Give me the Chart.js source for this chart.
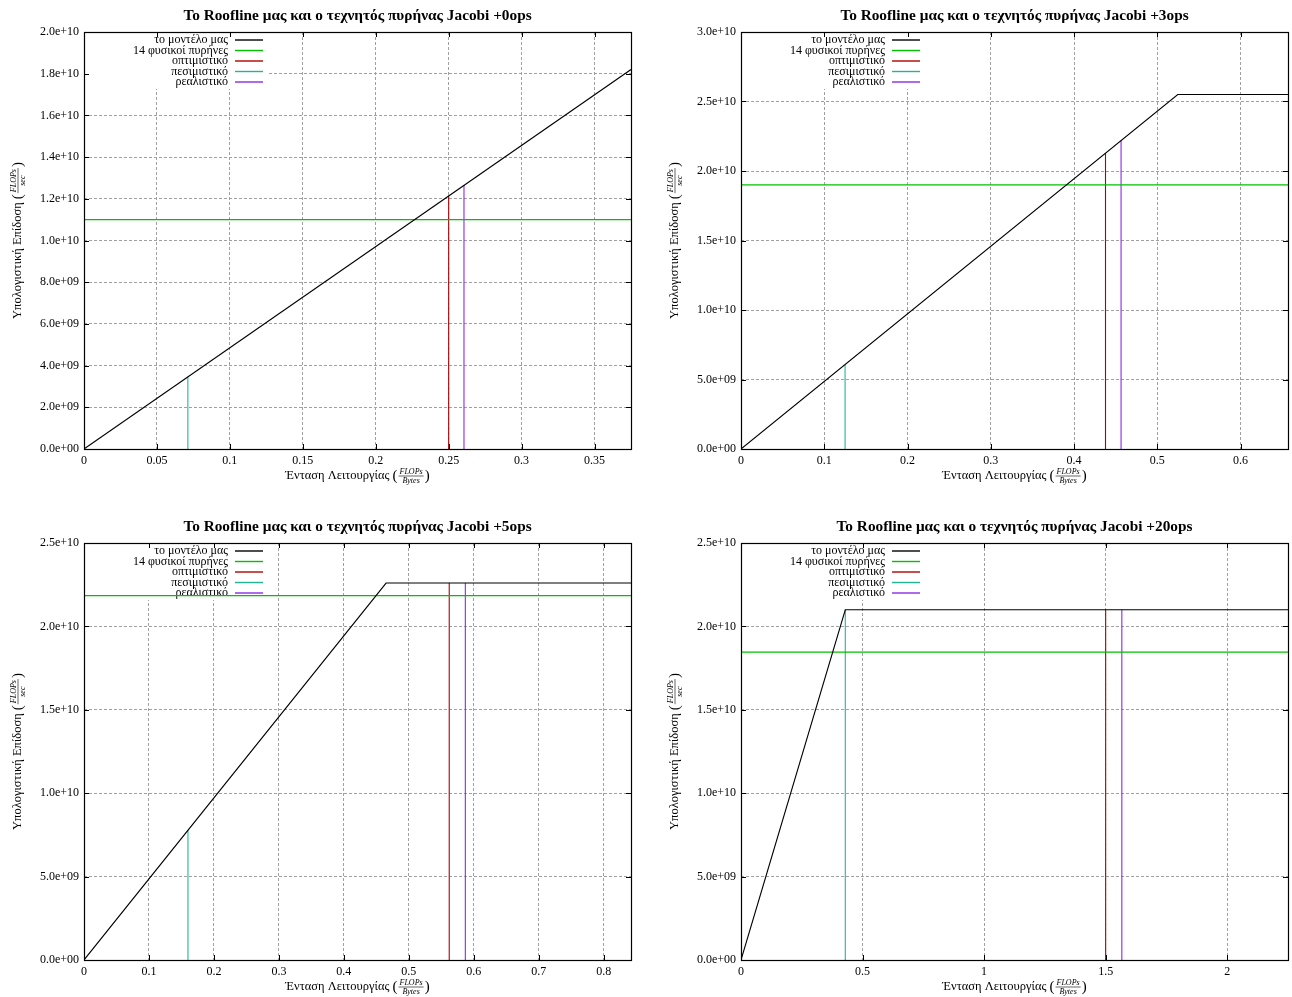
<!DOCTYPE html>
<html><head><meta charset="utf-8">
<script src="https://cdn.jsdelivr.net/npm/chart.js@4"></script>
<style>
body{margin:0;background:#fff;width:1292px;height:997px;overflow:hidden;position:relative}
canvas{position:absolute}
</style></head><body>
<canvas id="c0"></canvas><canvas id="c1"></canvas><canvas id="c2"></canvas><canvas id="c3"></canvas>
<script>
// ---------- data ----------
const titles = [
  'Το Roofline μας και ο τεχνητός πυρήνας Jacobi +0ops',
  'Το Roofline μας και ο τεχνητός πυρήνας Jacobi +3ops',
  'Το Roofline μας και ο τεχνητός πυρήνας Jacobi +5ops',
  'Το Roofline μας και ο τεχνητός πυρήνας Jacobi +20ops'
];
const legendLabels = ['το μοντέλο μας', '14 φυσικοί πυρήνες', 'οπτιμιστικό', 'πεσιμιστικό', 'ρεαλιστικό'];
const xLabelText = 'Ένταση Λειτουργίας';
const xLabelNum = 'FLOPs';
const xLabelDen = 'Bytes';
const yLabelText = 'Υπολογιστική Επίδοση';
const yLabelNum = 'FLOPs';
const yLabelDen = 'sec';

const xMaxes = [0.375, 0.657, 0.842, 2.25];
const xSteps = [0.05, 0.1, 0.1, 0.5];
const yMaxes = [2.0e10, 3.0e10, 2.5e10, 2.5e10];
const ySteps = [2e9, 5e9, 5e9, 5e9];

const roofX = [[0, 0.375], [0, 0.5246, 0.657], [0, 0.465, 0.842], [0, 0.429, 2.25]];
const roofY = [[0, 1.82e10], [0, 2.55e10, 2.55e10], [0, 2.26e10, 2.26e10], [0, 2.10e10, 2.10e10]];
const coresPerf = [1.10e10, 1.90e10, 2.185e10, 1.846e10];
const optimisticX = [0.25, 0.4378, 0.5622, 1.5];
const optimisticY = [1.215e10, 2.13e10, 2.26e10, 2.10e10];
const pessimisticX = [0.0712, 0.125, 0.16, 0.429];
const pessimisticY = [3.46e9, 6.08e9, 7.8e9, 2.10e10];
const realisticX = [0.2605, 0.4565, 0.587, 1.5665];
const realisticY = [1.266e10, 2.22e10, 2.26e10, 2.10e10];

// ---------- style / layout ----------
const COLORS = ['#000000', '#00c000', '#b00000', '#20b890', '#8a2be2'];
const plotAreas = [
  {l: 84, t: 32, r: 631, b: 449},
  {l: 741, t: 32, r: 1288, b: 449},
  {l: 84, t: 543, r: 631, b: 960},
  {l: 741, t: 543, r: 1288, b: 960}
];
const PADL = 100, PADT = 40, PADR = 10, PADB = 55;
const FONT = '"Liberation Serif", "DejaVu Serif", serif';

function fmtY(v) {
  if (Math.abs(v) < 1) return '0.0e+00';
  const s = v.toExponential(1);
  const parts = s.split('e');
  let sign = parts[1][0];
  let d = parts[1].slice(1);
  if (d.length < 2) d = '0' + d;
  return parts[0] + 'e' + sign + d;
}
function fmtX(v) {
  return String(Number(v.toFixed(4)));
}

function drawFracLabel(ctx, pre, num, den, cx, cy) {
  const mainF = '12.5px ' + FONT;
  const parF = '15px ' + FONT;
  const fracF = 'italic 8px ' + FONT;
  ctx.font = mainF; const wPre = ctx.measureText(pre + ' ').width;
  ctx.font = parF; const wPar = ctx.measureText('(').width;
  ctx.font = fracF; const wFrac = Math.max(ctx.measureText(num).width, ctx.measureText(den).width) + 2;
  const total = wPre + wPar * 2 + wFrac + 2;
  let x = cx - total / 2;
  ctx.fillStyle = '#000';
  ctx.textBaseline = 'middle';
  ctx.textAlign = 'left';
  ctx.font = mainF; ctx.fillText(pre + ' ', x, cy); x += wPre;
  ctx.font = parF; ctx.fillText('(', x, cy); x += wPar + 1;
  ctx.font = fracF; ctx.textAlign = 'center';
  ctx.fillText(num, x + wFrac / 2, cy - 4.5);
  ctx.fillText(den, x + wFrac / 2, cy + 5);
  ctx.strokeStyle = '#000'; ctx.lineWidth = 0.6;
  ctx.beginPath(); ctx.moveTo(x, cy); ctx.lineTo(x + wFrac, cy); ctx.stroke();
  x += wFrac + 1;
  ctx.textAlign = 'left';
  ctx.font = parF; ctx.fillText(')', x, cy);
}

const customPlugin = {
  id: 'custom',
  beforeDatasetsDraw(chart, args, opts) {
    const ctx = chart.ctx, a = chart.chartArea;
    ctx.save();
    ctx.fillStyle = '#fff';
    ctx.fillRect(a.left + 1, a.top + 1, 182, 56);
    ctx.font = '12px ' + FONT;
    ctx.textAlign = 'right';
    ctx.textBaseline = 'middle';
    legendLabels.forEach((lab, i) => {
      const y = a.top + 8 + i * 10.5;
      ctx.fillStyle = '#000';
      ctx.fillText(lab, a.left + 144, y);
      ctx.strokeStyle = COLORS[i];
      ctx.lineWidth = 1.4;
      ctx.beginPath(); ctx.moveTo(a.left + 151, y); ctx.lineTo(a.left + 179, y); ctx.stroke();
    });
    ctx.restore();
  },
  afterDraw(chart, args, opts) {
    const ctx = chart.ctx, a = chart.chartArea;
    const xs = chart.scales.x, ys = chart.scales.y;
    ctx.save();
    ctx.strokeStyle = '#000';
    ctx.lineWidth = 1;
    // inward ticks
    ctx.beginPath();
    xs.ticks.forEach(t => {
      const px = Math.round(xs.getPixelForValue(t.value)) + 0.5;
      ctx.moveTo(px, a.bottom); ctx.lineTo(px, a.bottom - 5);
      ctx.moveTo(px, a.top); ctx.lineTo(px, a.top + 5);
    });
    ys.ticks.forEach(t => {
      const py = Math.round(ys.getPixelForValue(t.value)) + 0.5;
      ctx.moveTo(a.left, py); ctx.lineTo(a.left + 5, py);
      ctx.moveTo(a.right, py); ctx.lineTo(a.right - 5, py);
    });
    ctx.stroke();
    // border
    ctx.lineWidth = 1.2;
    ctx.strokeRect(Math.round(a.left) + 0.5, Math.round(a.top) + 0.5, Math.round(a.right - a.left), Math.round(a.bottom - a.top));
    // title
    ctx.fillStyle = '#000';
    ctx.font = 'bold 15.3px ' + FONT;
    ctx.textAlign = 'center';
    ctx.textBaseline = 'middle';
    ctx.fillText(opts.title, (a.left + a.right) / 2, a.top - 16);
    // x label
    drawFracLabel(ctx, xLabelText, xLabelNum, xLabelDen, (a.left + a.right) / 2, a.bottom + 27);
    // y label
    ctx.save();
    ctx.translate(a.left - 66, (a.top + a.bottom) / 2);
    ctx.rotate(-Math.PI / 2);
    drawFracLabel(ctx, yLabelText, yLabelNum, yLabelDen, 0, 0);
    ctx.restore();
    ctx.restore();
  }
};

function seg(xArr, yArr) {
  return xArr.map((x, i) => ({x: x, y: yArr[i]}));
}

for (let p = 0; p < 4; p++) {
  const pa = plotAreas[p];
  const cv = document.getElementById('c' + p);
  const w = (pa.r - pa.l) + PADL + PADR;
  const h = (pa.b - pa.t) + PADT + PADB;
  cv.width = w; cv.height = h;
  cv.style.left = (pa.l - PADL) + 'px';
  cv.style.top = (pa.t - PADT) + 'px';
  cv.style.width = w + 'px'; cv.style.height = h + 'px';

  const lineDs = (label, data, color, width) => ({
    label: label, data: data, borderColor: color, backgroundColor: color,
    borderWidth: width, showLine: true, pointRadius: 0, pointHoverRadius: 0, fill: false, tension: 0
  });

  new Chart(cv, {
    type: 'scatter',
    data: {
      datasets: [
        lineDs(legendLabels[0], seg(roofX[p], roofY[p]), COLORS[0], 1.1),
        lineDs(legendLabels[1], seg([0, xMaxes[p]], [coresPerf[p], coresPerf[p]]), COLORS[1], 1.3),
        lineDs(legendLabels[2], seg([optimisticX[p], optimisticX[p]], [0, optimisticY[p]]), COLORS[2], 1.1),
        lineDs(legendLabels[3], seg([pessimisticX[p], pessimisticX[p]], [0, pessimisticY[p]]), COLORS[3], 1.1),
        lineDs(legendLabels[4], seg([realisticX[p], realisticX[p]], [0, realisticY[p]]), COLORS[4], 1.1)
      ]
    },
    options: {
      responsive: false,
      animation: false,
      devicePixelRatio: 1,
      layout: {padding: {left: 0, top: PADT, right: PADR, bottom: 0}},
      plugins: {
        legend: {display: false},
        tooltip: {enabled: false},
        title: {display: false},
        custom: {title: titles[p]}
      },
      scales: {
        x: {
          type: 'linear', min: 0, max: xMaxes[p],
          afterFit: (s) => { s.height = PADB; },
          ticks: {stepSize: xSteps[p], includeBounds: false, autoSkip: false, maxRotation: 0,
                  color: '#000', font: {family: FONT, size: 12}, padding: 5, callback: fmtX},
          grid: {color: '#a0a0a0', lineWidth: 1, drawTicks: false},
          border: {display: false, dash: [3, 2]}
        },
        y: {
          type: 'linear', min: 0, max: yMaxes[p],
          afterFit: (s) => { s.width = PADL; },
          ticks: {stepSize: ySteps[p], includeBounds: false, autoSkip: false,
                  color: '#000', font: {family: FONT, size: 12}, padding: 5, callback: fmtY},
          grid: {color: '#a0a0a0', lineWidth: 1, drawTicks: false},
          border: {display: false, dash: [3, 2]}
        }
      }
    },
    plugins: [customPlugin]
  });
}
</script>
</body></html>
